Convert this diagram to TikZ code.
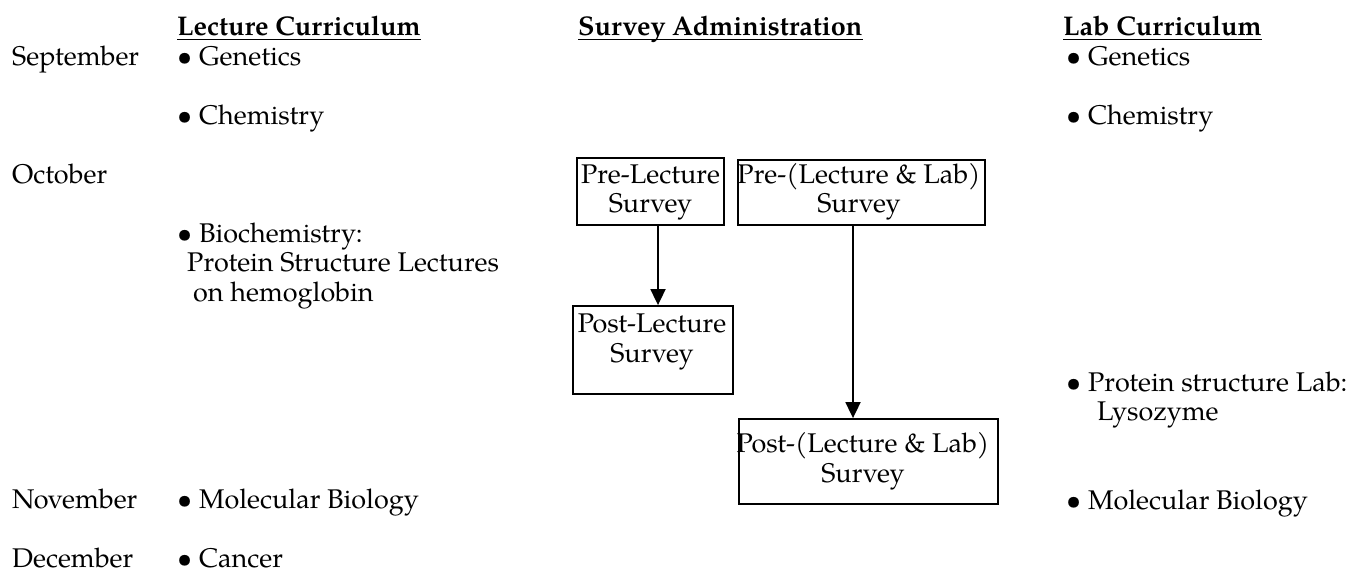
\documentclass[tikz,border=0pt]{standalone}
\usepackage{fontspec}
\setmainfont{TeX Gyre Pagella}
\usetikzlibrary{arrows.meta}
\begin{document}
\begin{tikzpicture}[x=1pt,y=-1pt,
  every node/.style={inner sep=0pt, font=\fontsize{27}{29.5}\selectfont},
  txt/.style={anchor=base west, align=left},
  ttl/.style={anchor=base west, font=\fontsize{27}{29.5}\selectfont\bfseries},
  uline/.style={line width=1.5pt},
  box/.style={draw, line width=1.8pt, minimum width=#1},
  ctr/.style={anchor=base, align=center},
  arr/.style={line width=1.8pt, -{Triangle[length=16pt,width=15pt]}}]
\useasboundingbox (0,0) rectangle (1347,572);

% titles
\node[ttl] (lc) at (177,36) {Lecture Curriculum};
\node[ttl] (sa) at (578,36) {Survey Administration};
\node[ttl] (lab) at (1063,36) {Lab Curriculum};
\foreach \t in {lc,sa,lab}
  \draw[uline] ([yshift=-3.5pt]\t.base west) -- ([yshift=-3.5pt]\t.base east);

% months
\node[txt] (sep) at (12,65.5) {September};
\node[txt] (oct) at (12,183.5) {October};
\node[txt] (nov) at (12,508) {November};
\node[txt] (dec) at (12,567) {December};

% lecture curriculum (multi-line nodes: base = last line)
\node[txt] (lgen) at (177,65.5) {\textbullet\ Genetics};
\node[txt] (lchem) at (177,124.5) {\textbullet\ Chemistry};
\node[txt] (lbio) at (177,301.5) {\textbullet\ Biochemistry:\\\hspace*{10pt}Protein Structure Lectures\\\hspace*{16pt}on hemoglobin};
\node[txt] (lmol) at (177,508) {\textbullet\ Molecular Biology};
\node[txt] (lcan) at (177,567) {\textbullet\ Cancer};

% lab curriculum
\node[txt] (rgen) at (1066,65.5) {\textbullet\ Genetics};
\node[txt] (rchem) at (1066,124.5) {\textbullet\ Chemistry};
\node[txt] (rprot) at (1066,420.5) {\textbullet\ Protein structure Lab:\\\hspace*{31pt}Lysozyme};
\node[txt] (rmol) at (1066,509) {\textbullet\ Molecular Biology};

% survey boxes
\node[box=147pt, minimum height=67pt] (prel) at (650.5,191.5) {};
\node[ctr] (prelt) at (650.5,213) {Pre-Lecture\\Survey};
\node[box=247pt, minimum height=65pt] (prell) at (861.5,192.5) {};
\node[ctr] (prellt) at (859,213) {Pre-(Lecture \& Lab)\\Survey};
\node[box=160pt, minimum height=88pt] (postl) at (653,350) {};
\node[ctr] (postlt) at (652,362) {Post-Lecture\\Survey};
\node[box=259pt, minimum height=85pt] (postll) at (868.5,461.5) {};
\node[ctr] (postllt) at (863,482) {Post-(Lecture \& Lab)\\Survey};

% arrows
\draw[arr] ([xshift=7.5pt]prel.south) -- ([xshift=7.5pt]prel.south |- postl.north);
\draw[arr] ([xshift=-8.5pt]prell.south) -- ([xshift=-8.5pt]prell.south |- postll.north);
\end{tikzpicture}
\end{document}
